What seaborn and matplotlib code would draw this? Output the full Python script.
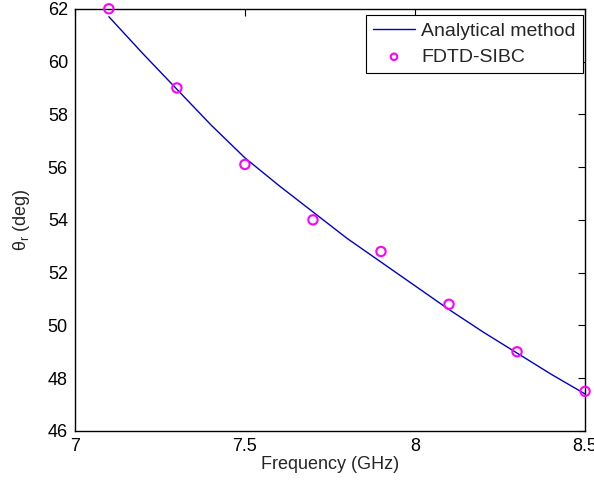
import numpy as np
import pandas as pd
import matplotlib
matplotlib.use("Agg")
import matplotlib.pyplot as plt
import seaborn as sns

# Analytical curve
freq_line = [7.1, 7.2, 7.3, 7.4, 7.5, 7.6, 7.7, 7.8, 7.9, 8.0, 8.1, 8.2, 8.3, 8.4, 8.5]
theta_line = [61.7, 60.3, 58.95, 57.6, 56.35, 55.3, 54.3, 53.3, 52.4, 51.5, 50.6, 49.75, 48.95, 48.15, 47.4]

# FDTD-SIBC points
freq_pts = [7.1, 7.3, 7.5, 7.7, 7.9, 8.1, 8.3, 8.5]
theta_pts = [62.0, 59.0, 56.1, 54.0, 52.8, 50.8, 49.0, 47.5]

xticks = [7, 7.5, 8, 8.5]
xticklabels = ["7", "7.5", "8", "8.5"]
yticks = [46, 48, 50, 52, 54, 56, 58, 60, 62]

sns.set_style("white")
plt.rcParams['font.family'] = ['Liberation Sans', 'DejaVu Sans']
plt.rcParams['mathtext.fontset'] = 'custom'
plt.rcParams['mathtext.rm'] = 'Liberation Sans'
plt.rcParams['mathtext.it'] = 'Liberation Sans'

fig = plt.figure(figsize=(5.94, 4.88), dpi=100)
ax = fig.add_axes([0.126, 0.117, 0.859, 0.865])

df_line = pd.DataFrame({"f": freq_line, "t": theta_line})
df_pts = pd.DataFrame({"f": freq_pts, "t": theta_pts})

sns.lineplot(data=df_line, x="f", y="t", ax=ax, color="#0000cc", linewidth=1.0,
             label="Analytical method")
sns.scatterplot(data=df_pts, x="f", y="t", ax=ax, marker="o", s=45,
                facecolors="none", edgecolor="#ff00ff", linewidth=1.5,
                label="FDTD-SIBC", zorder=3, clip_on=False)

ax.set_xlim(7, 8.5)
ax.set_ylim(46, 62)
ax.set_xticks(xticks)
ax.set_xticklabels(xticklabels)
ax.set_yticks(yticks)
ax.tick_params(direction="in", top=True, right=True, length=5, width=0.8,
               labelsize=13, colors="black", pad=5)
for sp in ax.spines.values():
    sp.set_color("black")
    sp.set_linewidth(1.0)

ax.set_xlabel("Frequency (GHz)", fontsize=13, labelpad=1)
ax.set_ylabel(r"$\theta_{\rm r}$ (deg)", fontsize=13, labelpad=11)

leg = ax.legend(loc="upper right", bbox_to_anchor=(0.995, 0.985), fontsize=14,
                frameon=True, fancybox=False, edgecolor="black", framealpha=1,
                handlelength=2.2, handletextpad=0.3, borderpad=0.35, labelspacing=0.45,
                borderaxespad=0.0, markerscale=0.7)
leg.get_frame().set_linewidth(0.8)

fig.savefig("out.png", dpi=100, facecolor="white")
